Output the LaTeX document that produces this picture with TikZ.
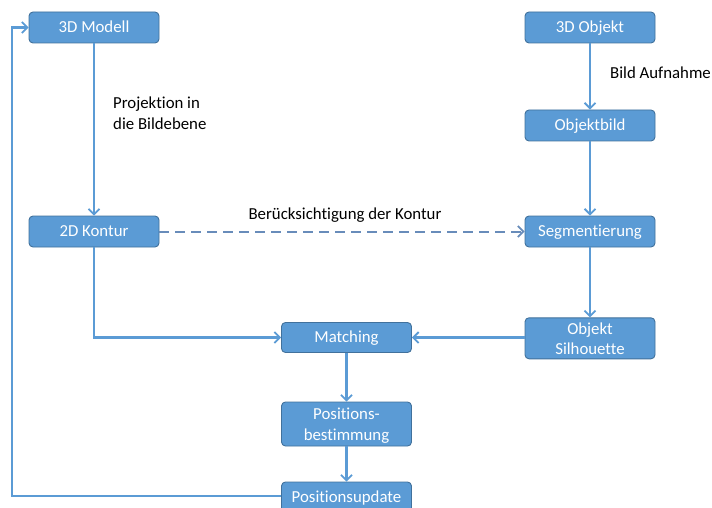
\documentclass[tikz,border=0pt]{standalone}
\usepackage{fontspec}
\setmainfont{Carlito}[Ligatures=NoCommon]
\usetikzlibrary{arrows.meta}
\definecolor{boxfill}{HTML}{5B9BD5}
\definecolor{boxline}{HTML}{41719C}
\definecolor{flow}{HTML}{5B9BD5}
\definecolor{dashflow}{RGB}{104,140,186}
% two centred lines, lowered slightly without changing the box size
\newcommand{\twolines}[2]{\raisebox{-2pt}[\height][\depth]{\begin{tabular}{@{}c@{}}#1\\#2\end{tabular}}}
\tikzset{
  stepbox/.style={draw=boxline, line width=0.9pt, fill=boxfill, rounded corners=4pt,
    minimum width=130pt, minimum height=31pt, inner sep=2pt, text=white,
    font=\fontsize{16.8}{20.5}\selectfont},
  oneline/.style={text height=11.5pt, text depth=1pt},
  twoline/.style={inner ysep=0pt},
  tip/.style={-{Straight Barb[length=5.5pt,width=11pt,line width=1.8pt]}},
  flowline/.style={draw=flow, line width=2.1pt, tip},
  note/.style={font=\fontsize{16.8}{20.5}\selectfont, text=black, align=left, inner sep=0pt}
}
\begin{document}
\begin{tikzpicture}[x=1pt,y=-1pt]
  \useasboundingbox (0,0) rectangle (712,508);
  \clip (0,0) rectangle (712,508);

  % left column: model side
  \node[stepbox, oneline] (modell) at (94,27.5) {3D Modell};
  \node[stepbox, oneline] (kontur) at (94,231.5) {2D Kontur};

  % right column: image side
  \node[stepbox, oneline] (objekt) at (590,27.5) {3D Objekt};
  \node[stepbox, oneline] (bild) at (590,125.5) {Objektbild};
  \node[stepbox, oneline] (segm) at (590,231.5) {Segmentierung};
  \node[stepbox, twoline, minimum height=40pt] (silh) at (590,338.3) {\twolines{Objekt}{Silhouette}};

  % centre column: pose estimation
  \node[stepbox, oneline, minimum height=30pt] (match) at (346.5,337.5) {Matching};
  \node[stepbox, twoline, minimum height=44pt] (pos) at (346.5,424) {\twolines{Positions-}{bestimmung}};
  \node[stepbox, oneline] (upd) at (346.5,497.5) {Positionsupdate};

  % connectors
  \draw[flowline] (modell) -- (kontur);
  \draw[flowline] (objekt) -- (bild);
  \draw[flowline] (bild) -- (segm);
  \draw[flowline] (segm) -- (silh);
  \draw[flowline] (kontur.south) |- (match.west);
  \draw[flowline] (silh.west |- match.east) -- (match.east);
  \draw[flowline] (match) -- (pos);
  \draw[flowline] (pos) -- (upd);
  \coordinate (loop) at (12,496);
  \draw[flowline] (upd.west |- loop) -- (loop) |- (modell.west);
  \draw[flowline, draw=dashflow, line width=2pt, dash pattern=on 10pt off 6pt] (kontur.east) -- (segm.west);

  % edge labels
  \node[note, anchor=north west] (lproj) at (113,97) {Projektion in\\die Bildebene};
  \node[note, anchor=west] (lbild) at (610,73) {Bild Aufnahme};
  \node[note, anchor=south] (lberu) at (345,223) {Berücksichtigung der Kontur};
\end{tikzpicture}
\end{document}
